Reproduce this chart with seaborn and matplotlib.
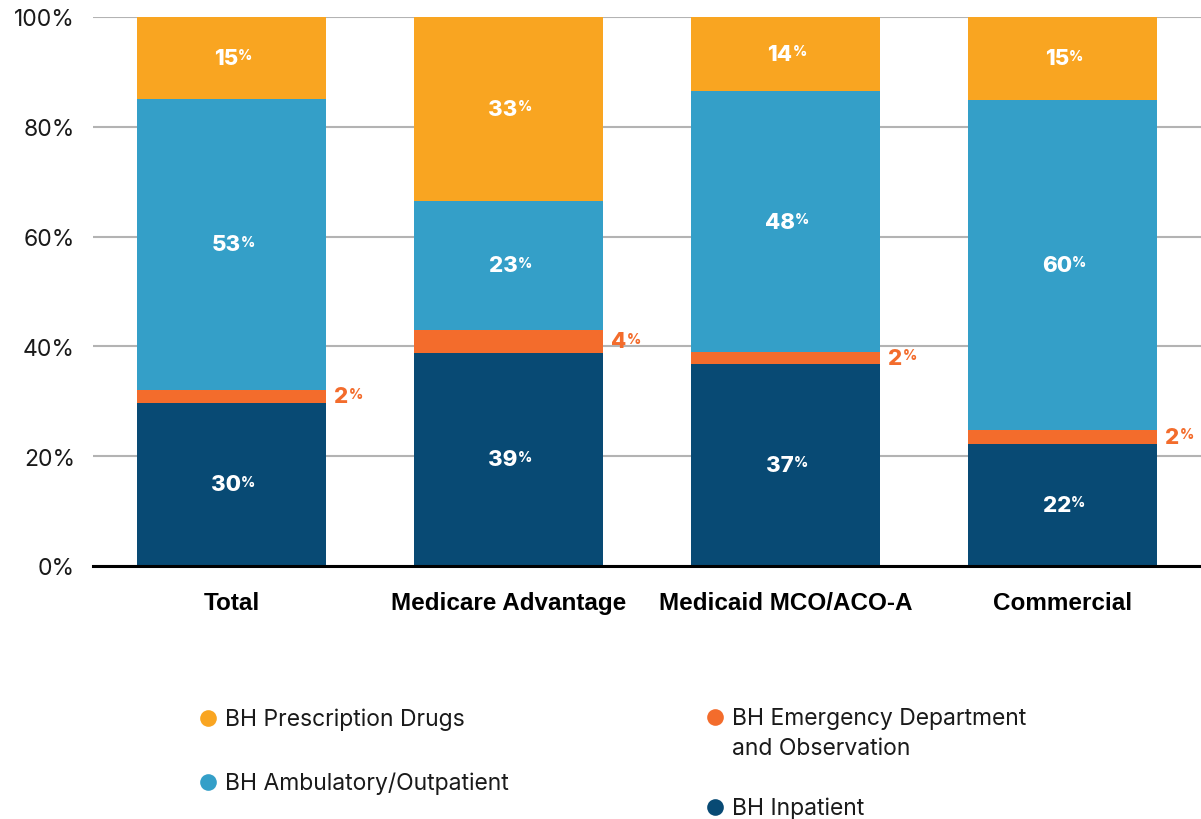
import numpy as np
import pandas as pd
import matplotlib.pyplot as plt
import seaborn as sns
from matplotlib.lines import Line2D

# categories and segment shares (percent of BH spend)
categories = ["Total", "Medicare Advantage", "Medicaid MCO/ACO-A", "Commercial"]
inpatient = [29.7, 38.8, 36.8, 22.2]
emergency = [2.4, 4.2, 2.2, 2.6]
ambulatory = [53.0, 23.5, 47.5, 60.1]
prescription = [14.9, 33.5, 13.5, 15.1]

# labels as printed on the chart
inpatient_lbl = [30, 39, 37, 22]
emergency_lbl = [2, 4, 2, 2]
ambulatory_lbl = [53, 23, 48, 60]
prescription_lbl = [15, 33, 14, 15]

series_names = ["BH Prescription Drugs", "BH Ambulatory/Outpatient",
                "BH Emergency Department\nand Observation", "BH Inpatient"]
colors = {"rx": "#F9A521", "amb": "#349FC8", "ed": "#F36C2C", "inp": "#084A74"}

W, H = 1201, 820

sns.set_style("white")
plt.rcParams["font.family"] = ["Liberation Sans", "DejaVu Sans"]

fig = plt.figure(figsize=(W / 100, H / 100), dpi=100)
ax = fig.add_axes([93 / W, 1 - 567 / H, 1108 / W, 549 / H])

# stacked bars drawn as overlapping cumulative totals
df = pd.DataFrame({"cat": categories, "inp": inpatient, "ed": emergency,
                   "amb": ambulatory, "rx": prescription})
df["c_inp"] = df["inp"]
df["c_ed"] = df["c_inp"] + df["ed"]
df["c_amb"] = df["c_ed"] + df["amb"]
df["c_rx"] = df["c_amb"] + df["rx"]

for col, key in [("c_rx", "rx"), ("c_amb", "amb"), ("c_ed", "ed"), ("c_inp", "inp")]:
    sns.barplot(data=df, x="cat", y=col, order=categories, color=colors[key],
                saturation=1, width=0.68, ax=ax, zorder=3,
                linewidth=0, edgecolor="none")

ax.set_ylim(0, 100)
ax.set_xlim(-0.5, 3.5)
ax.set_yticks(np.arange(0, 101, 20))
ax.set_yticklabels([f"{v}%" for v in range(0, 101, 20)], fontsize=16.5,
                   color="#1a1a1a", family=["Inter", "DejaVu Sans"])
ax.yaxis.grid(True, color="#B3B3B3", linewidth=1.5, zorder=0)
ax.set_axisbelow(True)
for s in ["top", "right", "left"]:
    ax.spines[s].set_visible(False)
ax.spines["bottom"].set_color("black")
ax.spines["bottom"].set_linewidth(2.2)
ax.spines["bottom"].set_zorder(5)
ax.tick_params(axis="y", length=0, pad=13)
ax.tick_params(axis="x", length=0, pad=18)
ax.set_xticks(range(len(categories)))
ax.set_xticklabels(categories, fontsize=17.5, fontweight="bold", color="black")
ax.set_xlabel("")
ax.set_ylabel("")


def pct_label(x, y, value, color, ha="center"):
    t = ax.text(x, y, f"{value}", ha=ha, va="center", fontsize=16,
                fontweight="heavy", color=color, zorder=6,
                family=["Inter", "DejaVu Sans"])
    if ha == "center":
        t.set_x(x - 0.02)
    ax.annotate("%", xy=(1, 0.98), xycoords=t, xytext=(0.2, 0), textcoords="offset points",
                ha="left", va="top", fontsize=10, fontweight="heavy", color=color,
                zorder=6, family=["Inter", "DejaVu Sans"])


for i in range(len(categories)):
    pct_label(i, df["c_inp"][i] / 2, inpatient_lbl[i], "white")
    pct_label(i, (df["c_ed"][i] + df["c_amb"][i]) / 2, ambulatory_lbl[i], "white")
    pct_label(i, (df["c_amb"][i] + df["c_rx"][i]) / 2, prescription_lbl[i], "white")
    pct_label(i + 0.37, (df["c_inp"][i] + df["c_ed"][i]) / 2, emergency_lbl[i],
              colors["ed"], ha="left")

# legend: two columns, markers sit on the first line of each label
legend_spots = [(208, 719), (208, 783), (715, 718), (715, 808)]
for (mx, my), key, name in zip(legend_spots, ["rx", "amb", "ed", "inp"], series_names):
    fig.add_artist(Line2D([mx / W], [1 - my / H], marker="o", markersize=12,
                          linestyle="none", markerfacecolor=colors[key],
                          markeredgecolor="none", transform=fig.transFigure))
    fig.text((mx + 17) / W, 1 - (my - 10) / H, name, ha="left", va="top",
             fontsize=16.5, color="#1a1a1a", linespacing=1.5,
             family=["Inter", "DejaVu Sans"])

fig.savefig("out.png", dpi=100)
